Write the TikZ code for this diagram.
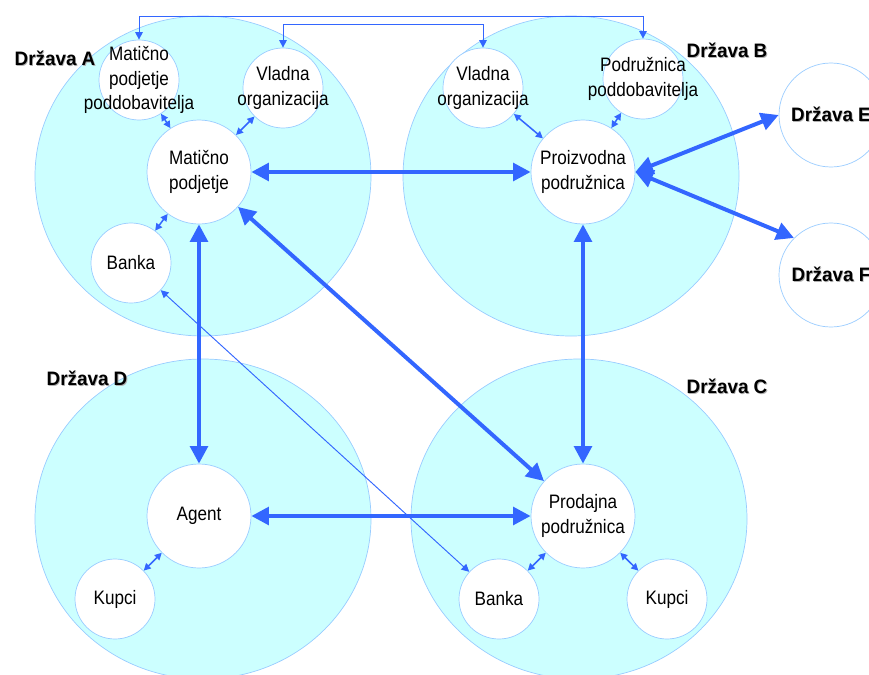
\documentclass[tikz,border=0pt]{standalone}
\usepackage{fontspec}
\setmainfont{Liberation Sans}[FakeStretch=0.88]
\newfontfamily\lblfont{Liberation Sans}[FakeStretch=0.97]
\usetikzlibrary{shapes,arrows.meta}
\definecolor{linkblue}{HTML}{3366FF}
\definecolor{landfill}{HTML}{CCFFFF}
\definecolor{landline}{HTML}{99CCFF}
\newcommand\shadowtxt[1]{\rlap{\hspace{0.7pt}\raisebox{-0.7pt}{\textcolor{black!30}{#1}}}#1}

\begin{document}
\begin{tikzpicture}[x=0.03cm,y=-0.03cm,
  land/.style={fill=landfill,draw=landline,line width=0.6pt},
  firm/.style={shape=circle,fill=white,draw=landline,line width=0.6pt,inner sep=0pt,minimum size=3.12cm},
  smallfirm/.style={firm,minimum size=2.4cm},
  txt/.style={align=center,font=\fontsize{16.6}{21}\selectfont,inner sep=0pt},
  country/.style={font=\lblfont\bfseries\fontsize{16.6}{20}\selectfont,inner sep=0pt},
  mainflow/.style={color=linkblue,line width=3.4pt,{Triangle[length=15pt,width=15pt]}-{Triangle[length=15pt,width=15pt]}},
  localflow/.style={color=linkblue,line width=1.3pt,{Triangle[length=6pt,width=6pt]}-{Triangle[length=6pt,width=6pt]}},
  thinflow/.style={color=linkblue,line width=0.8pt,{Triangle[length=6.5pt,width=6.5pt]}-{Triangle[length=6.5pt,width=6.5pt]}}]
\clip (0,0) rectangle (869,675);

% countries
\draw[land] (203,176) ellipse [x radius=168,y radius=160];
\draw[land] (571,176) ellipse [x radius=168,y radius=160];
\draw[land] (203,519) ellipse [x radius=168,y radius=160];
\draw[land] (579,519) ellipse [x radius=168,y radius=160];

\node[country] (la) at (55,59) {\shadowtxt{Država A}};
\node[country] (lb) at (727,51) {\shadowtxt{Država B}};
\node[country] (ld) at (87,379) {\shadowtxt{Država D}};
\node[country] (lc) at (727,387) {\shadowtxt{Država C}};

% firms in A
\node[firm,label={[txt]center:{Matično\\podjetje}}] (mp) at (199,172) {};
\node[smallfirm,label={[txt]center:{Matično\\podjetje\\poddobavitelja}}] (mpp) at (139,80) {};
\node[smallfirm,label={[txt]center:{Vladna\\organizacija}}] (vla) at (283,88) {};
\node[smallfirm,label={[txt]center:Banka}] (ba) at (131,263) {};
% firms in B
\node[firm,label={[txt]center:{Proizvodna\\podružnica}}] (pp) at (583,172) {};
\node[smallfirm,label={[txt]center:{Vladna\\organizacija}}] (vlb) at (483,88) {};
\node[smallfirm,label={[txt]center:{Podružnica\\poddobavitelja}}] (ppd) at (643,79) {};
% firms in D
\node[firm,label={[txt]center:Agent}] (ag) at (199,516) {};
\node[smallfirm,label={[txt]center:Kupci}] (kd) at (115,599) {};
% firms in C
\node[firm,label={[txt]center:{Prodajna\\podružnica}}] (pr) at (583,516) {};
\node[smallfirm,label={[txt]center:Banka}] (bc) at (499,599) {};
\node[smallfirm,label={[txt]center:Kupci}] (kc) at (667,599) {};
% other countries
\node[firm,label={[country]center:\shadowtxt{Država E}}] (de) at (831,115) {};
\node[firm,label={[country]center:\shadowtxt{Država F}}] (df) at (831,275) {};

\coordinate (top1) at (0,16);
\coordinate (top2) at (0,24);

\draw[thinflow] (mpp.north) -- (mpp.north |- top1) -| (ppd.north);
\draw[thinflow] (vla.north) -- (vla.north |- top2) -| (vlb.north);
\path[thinflow] (ba) edge (bc);

\path[localflow] (mpp) edge (mp);
\path[localflow] (vla) edge (mp);
\path[localflow] (ba) edge (mp);
\path[localflow] (vlb) edge (pp);
\path[localflow] (ppd) edge (pp);
\path[localflow] (kd) edge (ag);
\path[localflow] (bc) edge (pr);
\path[localflow] (kc) edge (pr);

\path[mainflow] (mp) edge (pp);
\path[mainflow] (mp) edge (ag);
\path[mainflow] (mp) edge (pr);
\path[mainflow] (pp) edge (pr);
\path[mainflow] (ag) edge (pr);
\path[mainflow] (pp.east) edge (de.west);
\path[mainflow] (pp.east) edge (df.135);
\end{tikzpicture}
\end{document}
